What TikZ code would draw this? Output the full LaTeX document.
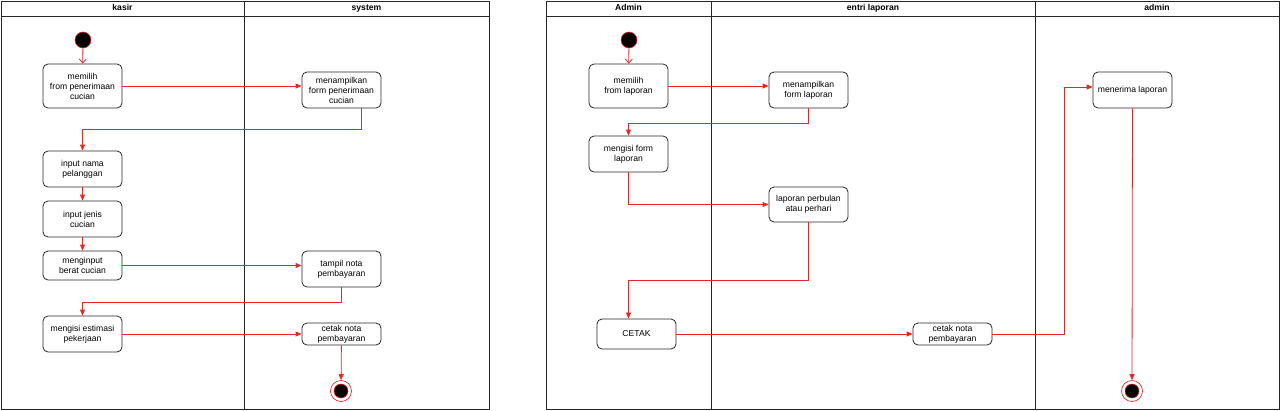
\documentclass[tikz,border=0pt]{standalone}
\usepackage{fontspec}
\setmainfont{Liberation Sans}
\usetikzlibrary{arrows.meta,positioning}
\definecolor{flow}{RGB}{228,40,40}
\begin{document}
\begin{tikzpicture}[x=1pt,y=-1pt,>={Triangle[length=6pt,width=5pt]},
    flow line/.style={draw=flow,line width=0.8pt,->},
    open line/.style={draw=flow,line width=0.8pt,-{Straight Barb[length=4pt,width=7pt]}},
    act/.style={draw=black!85,rounded corners=5pt,line width=0.8pt,align=center,
      minimum width=79pt,inner sep=0pt,font=\fontsize{8.6}{10}\selectfont},
    lane/.style={draw=black!85,line width=0.8pt},
    head/.style={font=\fontsize{8.6}{10}\selectfont\bfseries,text height=6.4pt,text depth=1.8pt,inner sep=0pt},
    start node/.style={circle,fill=black,draw=flow,line width=0.6pt,minimum size=16pt,inner sep=0pt},
    end ring/.style={circle,draw=flow,line width=0.7pt,minimum size=21pt,inner sep=0pt},
    end dot/.style={circle,fill=black,draw=flow,line width=0.6pt,minimum size=14pt,inner sep=0pt}]

  \useasboundingbox (0,0) rectangle (1280,410);

  \draw[lane] (1,1) rectangle (489,409);
  \draw[lane] (1,16) -- (489,16);
  \draw[lane] (244,1) -- (244,409);
  \node[head] (h kasir) at (122.5,8.5) {kasir};
  \node[head] (h system) at (366.5,8.5) {system};

  \node[start node] (start1) at (83,40) {};
  \node[act,minimum height=44pt] (k1) at (82.5,86) {memilih\\from penerimaan\\cucian};
  \node[act,minimum height=36pt] (s1) at (341.5,90) {menampilkan\\form penerimaan\\cucian};
  \node[act,minimum height=36pt] (k2) at (82.5,169) {input nama\\pelanggan};
  \node[act,minimum height=36pt] (k3) at (82.5,219) {input jenis\\cucian};
  \node[act,minimum height=29pt] (k4) at (82.5,265.5) {menginput\\berat cucian};
  \node[act,minimum height=36pt] (s2) at (341.5,269) {tampil nota\\pembayaran};
  \node[act,minimum height=36pt] (k5) at (82.5,334) {mengisi estimasi\\pekerjaan};
  \node[act,minimum height=22pt] (s3) at (341.5,334) {cetak nota\\pembayaran};
  \node[end ring] (end1) at (341,391) {};
  \node[end dot] (end1 dot) at (end1) {};

  \draw[open line] (start1) -- (k1);
  \draw[flow line] (k1.east) -- (k1.east -| s1.west);
  \draw[flow line] ([xshift=20pt]s1.south) -- ++(0,21) -| (k2.north);
  \draw[flow line] (k2) -- (k3);
  \draw[flow line] (k3) -- (k4);
  \draw[flow line] (k4.east) -- (k4.east -| s2.west);
  \draw[flow line] (s2.south) -- ++(0,15) -| (k5.north);
  \draw[flow line] (k5) -- (s3);
  \draw[flow line] (s3) -- (end1);

  \draw[lane] (546,1) rectangle (1279,409);
  \draw[lane] (546,16) -- (1279,16);
  \draw[lane] (711,1) -- (711,409);
  \draw[lane] (1035,1) -- (1035,409);
  \node[head] (h admin1) at (628.5,8.5) {Admin};
  \node[head] (h entri) at (873,8.5) {entri laporan};
  \node[head] (h admin2) at (1157,8.5) {admin};

  \node[start node] (start2) at (629,40) {};
  \node[act,minimum height=44pt] (a1) at (628.5,86) {memilih\\from laporan};
  \node[act,minimum height=36pt] (e1) at (808.5,90) {menampilkan\\form laporan};
  \node[act,minimum height=36pt] (a2) at (628.5,154) {mengisi form\\laporan};
  \node[act,minimum height=35pt] (e2) at (808.5,204.5) {laporan perbulan\\atau perhari};
  \node[act,minimum height=30pt] (a3) at (636.5,334) {CETAK};
  \node[act,minimum height=22pt] (e3) at (952.5,334) {cetak nota\\pembayaran};
  \node[act,minimum height=36pt] (m1) at (1132.5,90) {menerima laporan};
  \node[end ring] (end2) at (1132,391) {};
  \node[end dot] (end2 dot) at (end2) {};
  \coordinate (turn) at (1064,87);

  \draw[open line] (start2) -- (a1);
  \draw[flow line] (a1.east) -- (a1.east -| e1.west);
  \draw[flow line] (e1.south) -- ++(0,15) -| (a2.north);
  \draw[flow line] (a2.south) |- (e2.west);
  \draw[flow line] (e2.south) -- ++(0,58) -| (a3.north -| a1);
  \draw[flow line] (a3.east) -- (a3.east -| e3.west);
  \draw[flow line] (e3.east) -| (turn) -- (turn -| m1.west);
  \draw[flow line] (m1) -- (end2);
\end{tikzpicture}
\end{document}
